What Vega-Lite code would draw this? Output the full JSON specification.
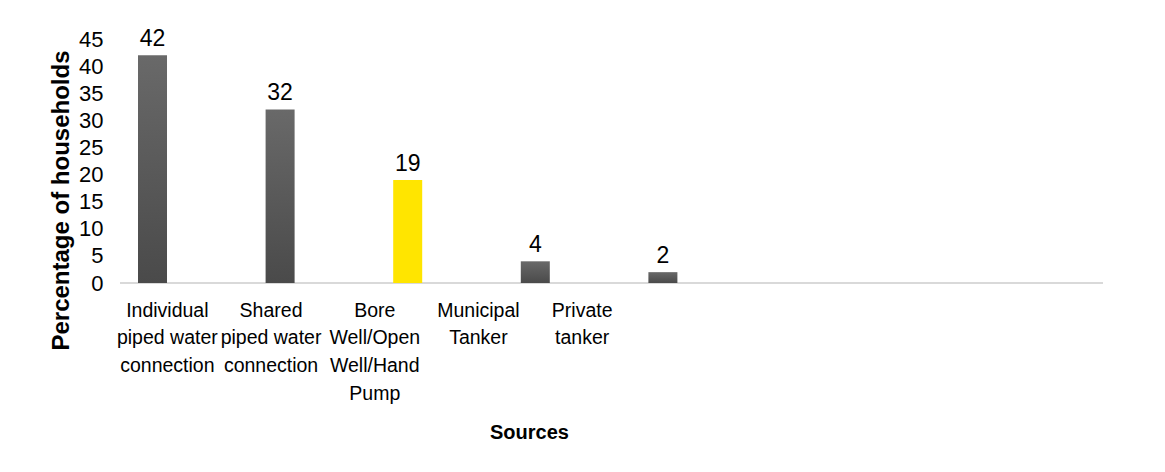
{
  "$schema": "https://vega.github.io/schema/vega-lite/v6.json",
  "width": 983,
  "height": 244,
  "autosize": {"type": "none"},
  "padding": {"left": 120, "top": 39, "right": 62, "bottom": 189},
  "background": "white",
  "config": {
    "view": {"stroke": null},
    "font": "Liberation Sans",
    "axis": {"labelFont": "Liberation Sans", "titleFont": "Liberation Sans", "labelColor": "#000000", "titleColor": "#000000", "grid": false},
    "axisY": {
      "values": [0, 5, 10, 15, 20, 25, 30, 35, 40, 45],
      "domain": false,
      "ticks": false,
      "labelFontSize": 22,
      "labelPadding": 17,
      "labelOverlap": false,
      "titleFontSize": 24,
      "titleFontWeight": "bold",
      "titleX": -52,
      "titleY": 161,
      "titleAngle": -90,
      "titleAlign": "center",
      "titleBaseline": "alphabetic"
    }
  },
  "data": {
    "values": [
      {"Source": "Individual piped water connection", "Percent": 42},
      {"Source": "Shared piped water connection", "Percent": 32},
      {"Source": "Bore Well/Open Well/Hand Pump", "Percent": 19},
      {"Source": "Municipal Tanker", "Percent": 4},
      {"Source": "Private tanker", "Percent": 2}
    ]
  },
  "layer": [
    {
      "mark": {"type": "rule", "color": "#d9d9d9", "strokeWidth": 2},
      "encoding": {"y": {"datum": 0, "type": "quantitative", "scale": {"domain": [0, 45]}, "axis": {"title": "Percentage of households", "values": [0, 5, 10, 15, 20, 25, 30, 35, 40, 45]}}}
    },
    {
      "encoding": {
        "x": {
          "field": "Source",
          "type": "nominal",
          "sort": null,
          "scale": {"range": [-31.3, 606.7], "paddingInner": 0.7727, "paddingOuter": 0.3864},
          "axis": null
        },
        "y": {
          "field": "Percent",
          "type": "quantitative",
          "scale": {"domain": [0, 45]},
          "axis": {"title": "Percentage of households", "values": [0, 5, 10, 15, 20, 25, 30, 35, 40, 45]}
        }
      },
      "layer": [
        {
          "mark": {"type": "bar"},
          "encoding": {
            "fill": {
              "condition": {"test": "datum.Source === 'Bore Well/Open Well/Hand Pump'", "value": "#FFE500"},
              "value": {"gradient": "linear", "x1": 0, "y1": 0, "x2": 0, "y2": 1, "stops": [{"offset": 0, "color": "#696969"}, {"offset": 1, "color": "#4a4a4a"}]}
            }
          }
        },
        {
          "mark": {"type": "text", "baseline": "bottom", "dy": -4, "fontSize": 23, "color": "#000000"},
          "encoding": {"text": {"field": "Percent", "type": "quantitative"}}
        }
      ]
    },
    {
      "mark": {"type": "point", "opacity": 0},
      "encoding": {
        "x": {
          "field": "Source",
          "type": "nominal",
          "sort": null,
          "scale": {"range": [-5, 513.5], "paddingInner": 0, "paddingOuter": 0},
          "axis": {
            "orient": "bottom",
            "domain": false,
            "ticks": false,
            "labelAngle": 0,
            "labelFontSize": 19.5,
            "labelLineHeight": 27.9,
            "labelPadding": 18,
            "labelBaseline": "top",
            "labelLimit": 0,
            "labelExpr": "datum.value === 'Individual piped water connection' ? ['Individual', 'piped water', 'connection'] : datum.value === 'Shared piped water connection' ? ['Shared', 'piped water', 'connection'] : datum.value === 'Bore Well/Open Well/Hand Pump' ? ['Bore', 'Well/Open', 'Well/Hand', 'Pump'] : datum.value === 'Municipal Tanker' ? ['Municipal', 'Tanker'] : ['Private', 'tanker']",
            "title": "Sources",
            "titleFontSize": 20,
            "titleFontWeight": "bold",
            "titleX": 409,
            "titleY": 149,
            "titleAlign": "center",
            "titleBaseline": "middle"
          }
        },
        "y": {"field": "Percent", "type": "quantitative", "axis": {"title": "Percentage of households", "values": [0, 5, 10, 15, 20, 25, 30, 35, 40, 45]}}
      }
    }
  ],
  "resolve": {"scale": {"x": "independent"}, "axis": {"x": "independent"}}
}
